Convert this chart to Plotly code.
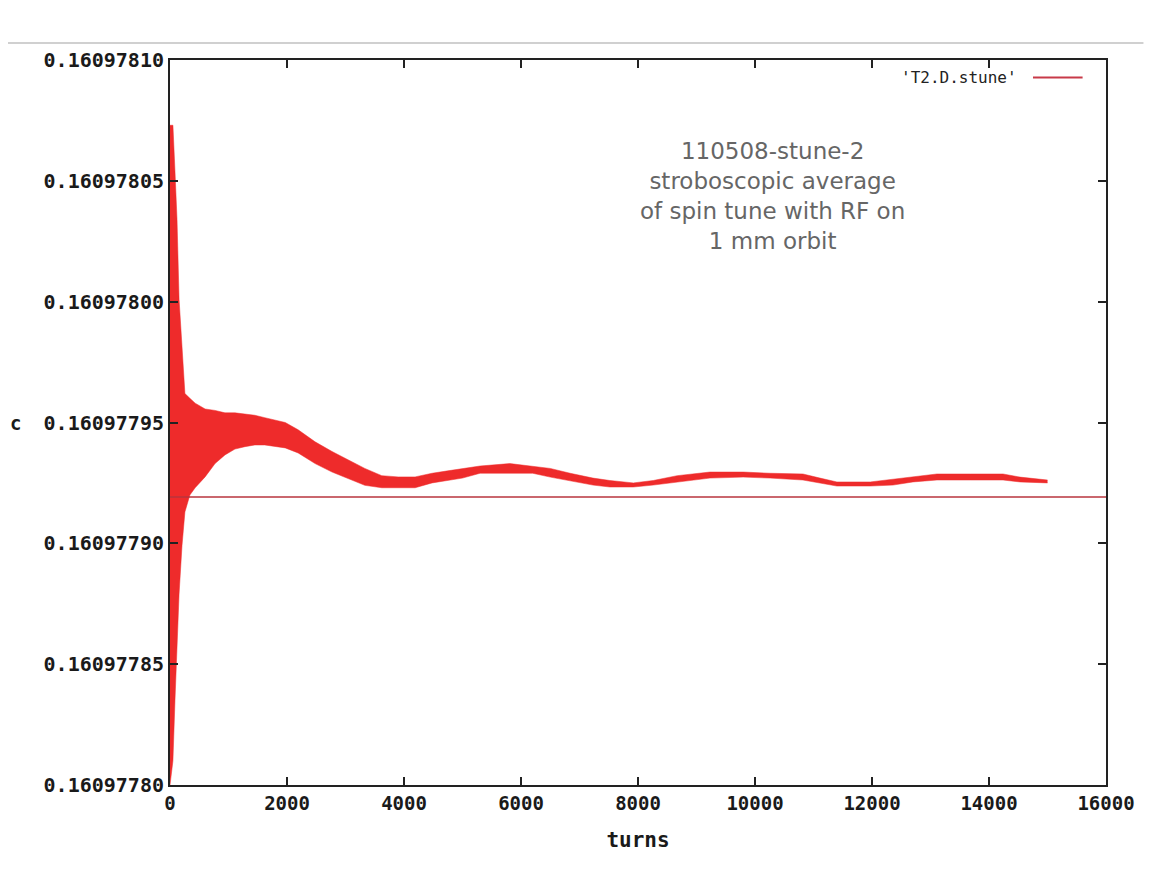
import plotly.graph_objects as go

# turns at which the envelope of the oscillating spin-tune trace was read
turns = [0, 50, 85, 120, 155, 205, 255, 340, 430, 600, 770, 940, 1110, 1280, 1450,
         1620, 1800, 1970, 2190, 2480, 2770, 3040, 3330, 3620, 3900, 4190, 4480,
         4750, 5000, 5300, 5810, 6200, 6500, 6840, 7230, 7520, 7920, 8260, 8670,
         9230, 9800, 10260, 10820, 11110, 11400, 11970, 12360, 12700, 13110, 13680,
         14240, 14530, 15000]

upper = [0.160978073, 0.160978073, 0.160978054, 0.160978034, 0.160978001, 0.160977980,
         0.160977962, 0.160977960, 0.160977958, 0.1609779556, 0.160977955, 0.160977954,
         0.160977954, 0.1609779535, 0.160977953, 0.160977952, 0.160977951, 0.160977950,
         0.160977947, 0.160977942, 0.160977938, 0.1609779345, 0.160977931, 0.160977928,
         0.1609779275, 0.1609779275, 0.160977929, 0.160977930, 0.160977931, 0.160977932,
         0.160977933, 0.160977932, 0.160977931, 0.160977929, 0.160977927, 0.160977926,
         0.160977925, 0.160977926, 0.160977928, 0.1609779295, 0.1609779295, 0.160977929,
         0.1609779287, 0.160977927, 0.1609779254, 0.1609779254, 0.1609779266, 0.1609779274,
         0.1609779287, 0.1609779287, 0.1609779287, 0.1609779274, 0.1609779262]

lower = [0.160977800, 0.160977810, 0.160977835, 0.160977860, 0.160977879, 0.160977899,
         0.160977913, 0.160977920, 0.160977923, 0.1609779275, 0.160977933, 0.1609779366,
         0.160977939, 0.160977940, 0.1609779407, 0.1609779407, 0.160977940, 0.1609779395,
         0.1609779374, 0.160977933, 0.1609779295, 0.160977927, 0.160977924, 0.160977923,
         0.160977923, 0.160977923, 0.160977925, 0.160977926, 0.160977927, 0.160977929,
         0.160977929, 0.160977929, 0.1609779274, 0.1609779258, 0.1609779241, 0.1609779233,
         0.1609779233, 0.1609779241, 0.1609779254, 0.160977927, 0.1609779274, 0.160977927,
         0.1609779262, 0.160977925, 0.1609779237, 0.1609779237, 0.1609779241, 0.1609779254,
         0.1609779262, 0.1609779262, 0.1609779262, 0.1609779254, 0.160977925]

ref_x = [0, 16000]
ref_y = [0.1609779192, 0.1609779192]

x_ticks = [0, 2000, 4000, 6000, 8000, 10000, 12000, 14000, 16000]
x_tick_text = ["0", "2000", "4000", "6000", "8000", "10000", "12000", "14000", "16000"]
y_ticks = [0.16097780, 0.16097785, 0.16097790, 0.16097795, 0.16097800, 0.16097805, 0.16097810]
y_tick_text = ["0.16097780", "0.16097785", "0.16097790", "0.16097795",
               "0.16097800", "0.16097805", "0.16097810"]

series_name = "'T2.D.stune'"
note = "110508-stune-2<br>stroboscopic average<br>of spin tune with RF on<br>1 mm orbit"

RED = "#ee2b2b"
MONO = "DejaVu Sans Mono, Liberation Mono, monospace"
tick_font = dict(family=MONO, size=20, color="#1a1a1a", weight="bold")

fig = go.Figure()
fig.add_trace(go.Scatter(x=turns, y=lower, mode="lines", line=dict(width=0.5, color=RED),
                         showlegend=False, hoverinfo="skip"))
fig.add_trace(go.Scatter(x=turns, y=upper, mode="lines", line=dict(width=0.5, color=RED),
                         fill="tonexty", fillcolor=RED, name=series_name, showlegend=False))
fig.add_trace(go.Scatter(x=ref_x, y=ref_y, mode="lines", line=dict(width=1.5, color="#b8343e"),
                         showlegend=False, hoverinfo="skip"))

fig.update_layout(
    width=1145, height=870,
    margin=dict(l=162, r=47, t=52, b=93),
    paper_bgcolor="white", plot_bgcolor="white",
    showlegend=False,
    xaxis=dict(range=[0, 16000], tickvals=x_ticks, ticktext=x_tick_text, ticks="inside",
               ticklen=8, tickwidth=2, tickcolor="#222", showline=True, linecolor="#222",
               linewidth=2, mirror="ticks", showgrid=False, zeroline=False,
               tickfont=dict(family=MONO, size=19, color="#1a1a1a", weight="bold"),
               title=dict(text="turns", font=dict(family=MONO, size=21, color="#1a1a1a",
                                                  weight="bold"), standoff=20)),
    yaxis=dict(range=[0.16097780, 0.16097810], tickvals=y_ticks, ticktext=y_tick_text,
               ticks="inside", ticklen=8, tickwidth=2, tickcolor="#222", showline=True,
               linecolor="#222", linewidth=2, mirror="ticks", showgrid=False, zeroline=False,
               tickfont=tick_font),
    font=dict(family="DejaVu Sans, sans-serif"),
)

# y label (gnuplot style, horizontal letter at the left)
fig.add_annotation(xref="paper", yref="paper", x=-0.165, y=0.5, text="c", showarrow=False,
                   xanchor="center", yanchor="middle",
                   font=dict(family=MONO, size=19, color="#1a1a1a", weight="bold"))

# text block
fig.add_annotation(xref="paper", yref="paper", x=0.644, y=0.895, text=note, showarrow=False,
                   xanchor="center", yanchor="top", align="center",
                   font=dict(family="DejaVu Sans, sans-serif", size=23, color="#666666"))

# gnuplot-style key: text then line sample on the right
fig.add_annotation(xref="paper", yref="paper", x=0.907, y=0.976, text=series_name, showarrow=False,
                   xanchor="right", yanchor="middle",
                   font=dict(family=MONO, size=16, color="#222"))
fig.add_shape(type="line", xref="paper", yref="paper", x0=0.922, x1=0.975, y0=0.976, y1=0.976,
              line=dict(color="#c83a48", width=2))

# thin gray separator at the top of the window
fig.add_shape(type="line", xref="paper", yref="paper", x0=-0.19, x1=1.04, y0=1.0234, y1=1.0234,
              line=dict(color="#d0d0d0", width=2))

fig.write_html("out.html")
